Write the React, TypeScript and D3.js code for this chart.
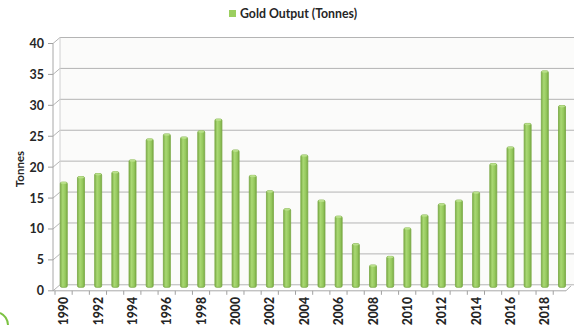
import React from "react";
import * as d3 from "d3";

const years = d3.range(1990, 2020).map(String);
const output = [16.6, 17.5, 18.0, 18.3, 20.2, 23.6, 24.4, 23.9, 24.9, 26.8,
  21.8, 17.7, 15.2, 12.3, 21.0, 13.7, 11.1, 6.65, 3.2, 4.6,
  9.2, 11.3, 13.1, 13.7, 15.0, 19.6, 22.3, 26.1, 34.6, 29.0];
const yTicks = [0, 5, 10, 15, 20, 25, 30, 35, 40];
const seriesName = "Gold Output (Tonnes)";
const yTitle = "Tonnes";

const W = 579, H = 325;
const DX = 7, DY = 6; // 3D depth offset
const font = "Lato, 'Open Sans', sans-serif";

export default function App() {
  const y = d3.scaleLinear().domain([0, 40]).range([284.8, 37.5]);
  const x = d3.scaleBand().domain(years).range([56, 571.4]).padding(0);
  const frontLeft = 53, frontRight = 566;
  const backLeft = frontLeft + DX, backRight = 574;
  const bw = 7;
  return (
    <svg width={W} height={H} style={{ position: "absolute", left: 0, top: 0 }}>
      <defs>
        <linearGradient id="barG" x1="0" x2="1" y1="0" y2="0">
          <stop offset="0" stopColor="#7fb04a" />
          <stop offset="0.35" stopColor="#a9d873" />
          <stop offset="0.7" stopColor="#96c95e" />
          <stop offset="1" stopColor="#7aab45" />
        </linearGradient>
      </defs>
      <rect x={0} y={0} width={W} height={H} fill="#ffffff" />
      {/* back wall */}
      <rect x={backLeft} y={y(40)} width={backRight - backLeft} height={y(0) - y(40)} fill="#fbfbfa" />
      {/* gridlines */}
      {yTicks.map((t) => (
        <g key={t}>
          <line x1={backLeft} x2={backRight} y1={y(t)} y2={y(t)} stroke="#b4b4b4" strokeWidth={1} />
          <line x1={frontLeft} y1={y(t) + DY} x2={backLeft} y2={y(t)} stroke="#b4b4b4" strokeWidth={1} />
          <line x1={frontLeft - 5} x2={frontLeft} y1={y(t) + DY} y2={y(t) + DY} stroke="#a0a0a0" strokeWidth={1} />
          <text x={44} y={y(t) + DY + 4.5} textAnchor="end" fontFamily={font} fontWeight="bold" fontSize={12.5} fill="#262626">{t}</text>
        </g>
      ))}
      {/* left wall edge / axis */}
      <line x1={frontLeft} x2={frontLeft} y1={y(40) + DY} y2={y(0) + DY} stroke="#a8a8a8" strokeWidth={1} />
      <line x1={backLeft} x2={backLeft} y1={y(40)} y2={y(0)} stroke="#d0d0d0" strokeWidth={1} />
      {/* floor */}
      <line x1={frontLeft} x2={frontRight} y1={y(0) + DY} y2={y(0) + DY} stroke="#a8a8a8" strokeWidth={1} />
      <line x1={frontRight} y1={y(0) + DY} x2={backRight - 3} y2={y(0) + 1} stroke="#a8a8a8" strokeWidth={1} />
      {years.map((yr) => (
        <line key={yr} x1={(x(yr) as number) - 1} x2={(x(yr) as number) - 1} y1={y(0) + DY} y2={y(0) + DY + 4} stroke="#a0a0a0" strokeWidth={1} />
      ))}
      {/* bars */}
      {years.map((yr, i) => {
        const cx = (x(yr) as number) + x.bandwidth() / 2 - 0.8;
        const top = y(output[i]);
        const bottom = y(0) + 2.5;
        return (
          <g key={yr}>
            <rect x={cx - bw / 2} y={top} width={bw} height={bottom - top} fill="url(#barG)" stroke="#78a843" strokeWidth={0.8} rx={1.5} />
            <ellipse cx={cx} cy={top + 0.8} rx={bw / 2 - 0.4} ry={1.1} fill="#b9e08a" />
          </g>
        );
      })}
      {/* x labels */}
      {years.filter((_, i) => i % 2 === 0).map((yr) => {
        const cx = (x(yr) as number) + x.bandwidth() / 2 - 0.8;
        return (
          <text key={yr} transform={`translate(${cx + 4.5},${297}) rotate(-90)`} textAnchor="end" fontFamily={font} fontWeight="900" fontSize={12.2} fill="#262626">{yr}</text>
        );
      })}
      {/* y title */}
      <text transform={`translate(${24},${169}) rotate(-90)`} textAnchor="middle" fontFamily={font} fontWeight="bold" fontSize={11.5} fill="#262626">{yTitle}</text>
      {/* legend */}
      <rect x={229} y={10} width={7} height={7} fill="#9bcf5f" />
      <text x={240} y={18} fontFamily={font} fontWeight="bold" fontSize={12.3} fill="#262626">{seriesName}</text>
      {/* corner decoration */}
      <path d="M0,313 A14,14 0 0 1 8,325" fill="none" stroke="#7cc243" strokeWidth={2} />
    </svg>
  );
}
